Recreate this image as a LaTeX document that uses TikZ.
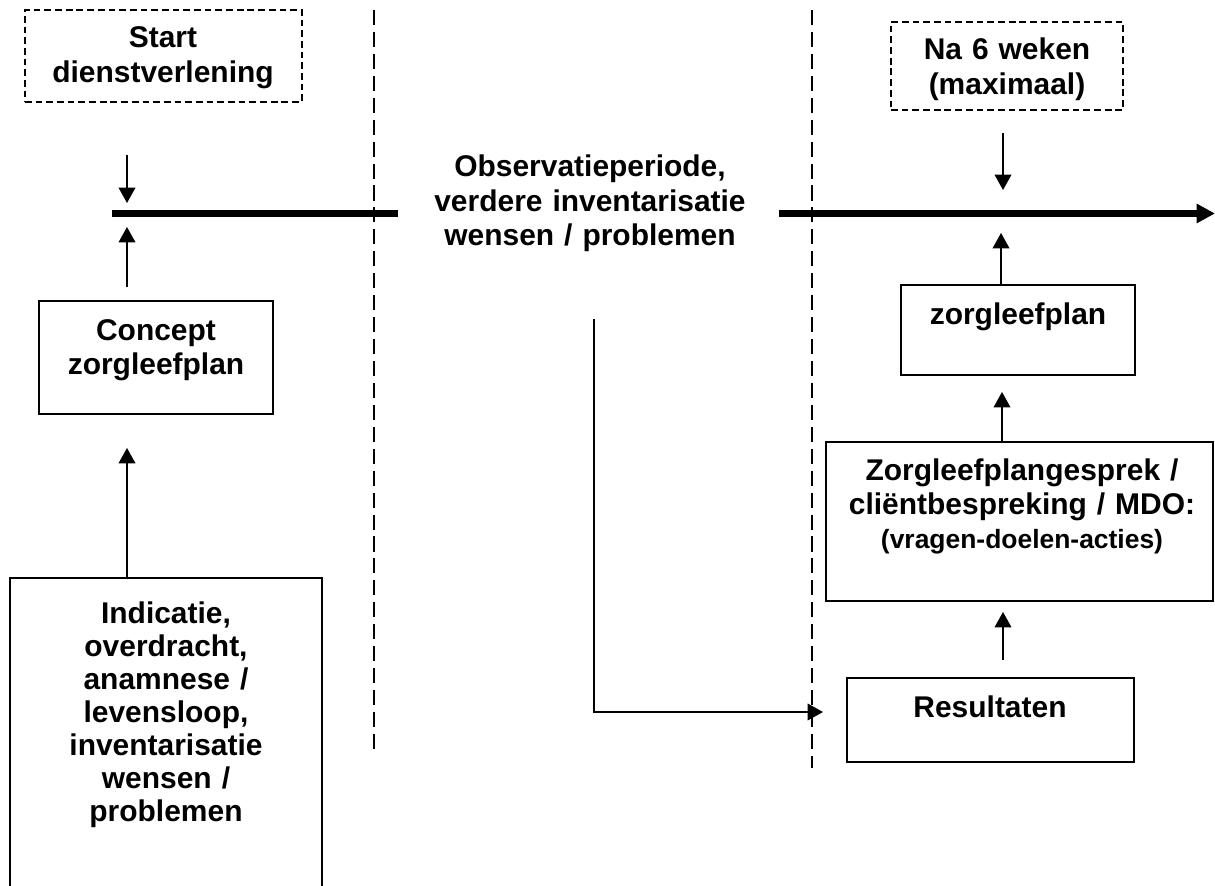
\documentclass[tikz,border=0pt]{standalone}
\usepackage{fontspec}
\setmainfont{Liberation Sans}
\usetikzlibrary{arrows.meta,fit}

\begin{document}
\begin{tikzpicture}[x=0.025cm, y=-0.025cm, line width=0.9pt, >={Triangle[length=11pt,width=12pt]}, box/.style = {draw, line width=1.2pt, inner sep=0pt}, dbox/.style = {box, dash pattern=on 4.8pt off 2.8pt}, lbl/.style = {text width=9cm, align=center, anchor=base, font=\bfseries\fontsize{21.3}{24.2}\selectfont}, lane/.style = {line width=1.1pt, dash pattern=on 10.7pt off 4.9pt}, tline/.style = {line width=4.3pt}]
\useasboundingbox (0,0) rectangle (1215,886);
\clip (0,0) rectangle (1215,886);
\node[dbox, fit={(25,10) (302,102)}] (start) {};
\node[dbox, fit={(891,22) (1123,110)}] (naweken) {};
\node[box, fit={(39,301) (273,414)}] (concept) {};
\node[box, fit={(10,578) (322,900)}] (indicatie) {};
\node[box, fit={(901,285) (1135,375)}] (plan) {};
\node[box, fit={(826,442) (1213,601)}] (gesprek) {};
\node[box, fit={(847,678) (1134,762)}] (result) {};
\node[lbl] (starttxt) at (163,48) {Start\\dienstverlening};
\node[lbl] (natxt) at (1007,60) {Na 6 weken\\(maximaal)};
\node[lbl] (obs) at (590,177) {Observatieperiode,\\verdere inventarisatie\\wensen / problemen};
\node[lbl] (concepttxt) at (156,340) {Concept\\zorgleefplan};
\node[lbl, font=\bfseries\fontsize{21.3}{23.5}\selectfont] (indicatietxt) at (166,623) {Indicatie,\\overdracht,\\anamnese /\\levensloop,\\inventarisatie\\wensen /\\problemen};
\node[lbl] (plantxt) at (1018,324) {zorgleefplan};
\node[lbl] (gesprektxt) at (1022,480) {Zorgleefplangesprek /\\cliëntbespreking / MDO:\par\fontsize{18.8}{21.3}\selectfont (vragen-doelen-acties)};
\node[lbl] (resulttxt) at (990,717) {Resultaten};
\draw[lane] (374,10) -- (374,752);
\draw[lane] (812,10) -- (812,768);
\coordinate (t0) at (112,213.5);
\coordinate (t1) at (398,213.5);
\coordinate (t2) at (779,213.5);
\coordinate (t3) at (1215,213.5);
\draw[tline] (t0) -- (t1);
\draw[tline, -{Triangle[length=13pt,width=13pt]}] (t2) -- (t3);
\coordinate (s1) at (127,155);
\coordinate (s2) at (127,203);
\coordinate (c1) at (127,287);
\coordinate (c2) at (127,227);
\coordinate (c3) at (127,448);
\coordinate (n1) at (1003,133);
\coordinate (n2) at (1003,190);
\coordinate (p1) at (1001,233);
\coordinate (g1) at (1002,392);
\coordinate (r1) at (1003,660);
\coordinate (r2) at (1003,612);
\coordinate (o1) at (594,319);
\coordinate (r3) at (823,712);
\draw[->] (s1) -- (s2);
\draw[->] (c1) -- (c2);
\draw[->] (indicatie.north -| c3) -- (c3);
\draw[->] (n1) -- (n2);
\draw[->] (plan.north -| p1) -- (p1);
\draw[->] (gesprek.north -| g1) -- (g1);
\draw[->] (r1) -- (r2);
\draw[->] (o1) |- (r3);
\end{tikzpicture}
\end{document}
